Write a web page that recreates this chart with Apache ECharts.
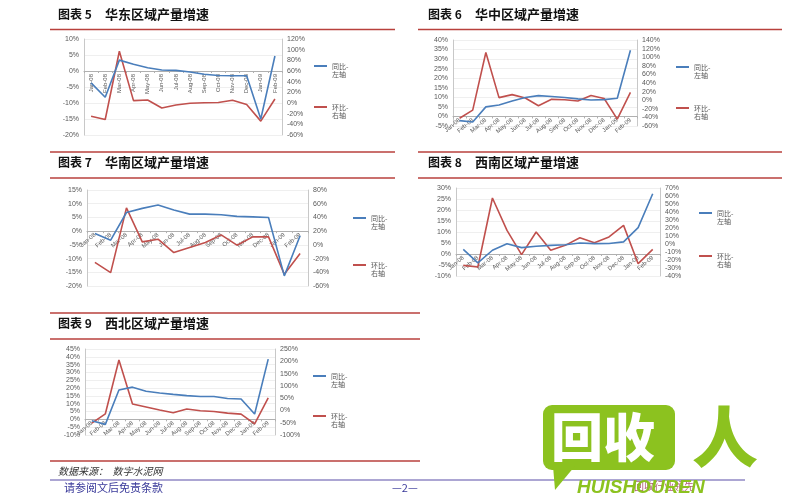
<!DOCTYPE html>
<html>
<head>
<meta charset="utf-8">
<script src="https://cdn.jsdelivr.net/npm/echarts@6/dist/echarts.min.js"></script>
<style>html,body{margin:0;padding:0;background:#fff}#c{width:800px;height:500px}</style>
</head>
<body>
<div id="c"></div>
<script>
const months = ['Jan-08','Feb-08','Mar-08','Apr-08','May-08','Jun-08','Jul-08','Aug-08','Sep-08','Oct-08','Nov-08','Dec-08','Jan-09','Feb-09'];

const huadongYoY = [-3.7,-8.2,3.4,2.1,1.0,0.3,0.2,-0.3,-1.0,-1.4,-1.5,-1.5,-15.0,4.7];
const huadongMoM = [-25,-31,97,4.4,5.6,-9.4,-3.8,-0.6,0.6,1.0,5.0,-3.0,-34,7.5];

const huazhongYoY = [-2.2,-2.9,5.0,6.0,8.1,9.9,10.9,10.4,9.9,9.2,8.6,8.8,9.5,34.6];
const huazhongMoM = [-42,-23,111,6,13,5,-13,2,1,-2,11,4,-44,18];

const huananYoY = [-0.9,-3.3,6.8,8.3,9.5,7.7,6.2,6.2,6.0,5.4,5.2,5.0,-16.3,-1.7];
const huananMoM = [-25.6,-40.5,54,4.4,8.3,-11.2,-3.9,3.4,14.6,-0.5,11.7,11.7,-43,-12.7];

const xinanYoY = [2.1,-4.0,1.7,4.7,2.9,3.5,3.9,4.2,5.0,4.7,4.8,5.5,12.0,27.4];
const xinanMoM = [-26.7,-28.8,57.5,17,-13.3,15,-7.9,-1.7,7.9,1.7,8.8,23.3,-24.6,-6.7];

const xibeiYoY = [-0.9,-3.2,18.8,20.6,18,16.9,16,15.2,14.6,14.6,13.3,13,3.4,38.5];
const xibeiMoM = [-52,-13.7,205,26,13.7,1.4,-9.6,5.5,-1.4,-4.1,-11,-15,-55,50.8];

const chartTitles = ['华东区域产量增速','华中区域产量增速','华南区域产量增速','西南区域产量增速','西北区域产量增速'];
const chartNums = ['图表 5','图表 6','图表 7','图表 8','图表 9'];
const nameYoY = '同比-\n左轴';
const nameMoM = '环比-\n右轴';

// per-chart layout: grid, axis ranges, legend position
const panels = [
  {yoy: huadongYoY, mom: huadongMoM, grid:{left:84,top:39,width:198,height:96}, l:[-20,10,5], r:[-60,120,20], rot:90, leg:{left:314,top:54,gap:17}},
  {yoy: huazhongYoY, mom: huazhongMoM, grid:{left:453,top:40,width:184,height:86}, l:[-5,40,5], r:[-60,140,20], rot:40, leg:{left:676,top:55,gap:17}},
  {yoy: huananYoY, mom: huananMoM, grid:{left:87,top:190,width:221,height:96}, l:[-20,15,5], r:[-60,80,20], rot:40, leg:{left:353,top:206,gap:23}},
  {yoy: xinanYoY, mom: xinanMoM, grid:{left:456,top:188,width:204,height:88}, l:[-10,30,5], r:[-40,70,10], rot:40, leg:{left:699,top:201,gap:19}},
  {yoy: xibeiYoY, mom: xibeiMoM, grid:{left:85,top:349,width:190,height:86}, l:[-10,45,5], r:[-100,250,50], rot:40, leg:{left:313,top:364,gap:16}}
];

const BLUE = '#4a7ebb', RED = '#c0504d';
const lblColor = '#595959';
const grids = [], xAxes = [], yAxes = [], series = [], legends = [];

panels.forEach((p, i) => {
  grids.push(Object.assign({}, p.grid));
  // place the category axis at the 0% level of the left axis
  const zeroOffset = -p.grid.height * (0 - p.l[0]) / (p.l[1] - p.l[0]);
  xAxes.push({
    type:'category', gridIndex:i, data: months, boundaryGap:true, position:'bottom', offset: zeroOffset,
    axisLine:{show:true, onZero:false, lineStyle:{color:'#b0b0b0', width:1}},
    axisTick:{show:true, length:2, lineStyle:{color:'#b0b0b0'}},
    axisLabel:{interval:0, rotate:p.rot, fontSize:6, color:lblColor, margin:3, fontFamily:'Liberation Sans'}
  });
  yAxes.push({
    type:'value', gridIndex:i, position:'left', min:p.l[0], max:p.l[1], interval:p.l[2],
    axisLine:{show:true, lineStyle:{color:'#c8c8c8'}}, axisTick:{show:false},
    splitLine:{show:true, lineStyle:{color:'#efefef'}},
    axisLabel:{formatter:'{value}%', fontSize:7, color:lblColor, margin:5, fontFamily:'Liberation Sans'}
  });
  yAxes.push({
    type:'value', gridIndex:i, position:'right', min:p.r[0], max:p.r[1], interval:p.r[2],
    axisLine:{show:true, lineStyle:{color:'#c8c8c8'}}, axisTick:{show:false},
    splitLine:{show:false},
    axisLabel:{formatter:'{value}%', fontSize:7, color:lblColor, margin:5, fontFamily:'Liberation Sans'}
  });
  series.push({
    type:'line', name:nameYoY, xAxisIndex:i, yAxisIndex:2*i, data:p.yoy,
    symbol:'none', lineStyle:{color:BLUE, width:1.6}, itemStyle:{color:BLUE}, z:3
  });
  series.push({
    type:'line', name:nameMoM, xAxisIndex:i, yAxisIndex:2*i+1, data:p.mom,
    symbol:'none', lineStyle:{color:RED, width:1.6}, itemStyle:{color:RED}, z:2
  });
  legends.push({
    left:p.leg.left, top:p.leg.top, orient:'vertical', padding:0, itemGap:p.leg.gap,
    itemWidth:13, itemHeight:2, icon:'rect', data:[nameYoY, nameMoM],
    formatter: n => ' \n' + n,
    textStyle:{fontSize:7, lineHeight:8, color:'#555', fontFamily:'Noto Sans CJK SC'}
  });
});

const RL = '#b8403c';
function hline(x1, x2, y, color, w){
  return {type:'line', shape:{x1:x1, y1:y, x2:x2, y2:y}, style:{stroke:color, lineWidth:w}, silent:true};
}
function ttl(x, y, text, size, extra){
  return {type:'text', x:x, y:y, style:Object.assign({text:text, fontSize:size, fontWeight:'bold', fill:'#111',
    fontFamily:'Noto Sans CJK SC', verticalAlign:'middle'}, extra||{}), silent:true};
}
const graphics = [
  hline(50, 395, 29.5, RL, 1.5), hline(418, 782, 29.5, RL, 1.5),
  hline(50, 395, 152, RL, 1.5), hline(50, 395, 178, RL, 1.5),
  hline(418, 782, 152, RL, 1.5), hline(418, 782, 178, RL, 1.5),
  hline(50, 420, 313, RL, 1.5), hline(50, 420, 339, RL, 1.5),
  hline(50, 420, 461, RL, 1.5),
  hline(50, 745, 480, '#5a4fa8', 1.2),
  ttl(58, 14, chartNums[0], 12), ttl(105, 14, chartTitles[0], 13),
  ttl(428, 14, chartNums[1], 12), ttl(475, 14, chartTitles[1], 13),
  ttl(58, 162, chartNums[2], 12), ttl(105, 162, chartTitles[2], 13),
  ttl(428, 162, chartNums[3], 12), ttl(475, 162, chartTitles[3], 13),
  ttl(58, 323, chartNums[4], 12), ttl(105, 323, chartTitles[4], 13),
  ttl(58, 471, '数据来源：  数字水泥网', 10, {fontWeight:'normal', fontStyle:'italic', fill:'#333'}),
  ttl(64, 488, '请参阅文后免责条款', 11, {fontWeight:'normal', fill:'#3a3a9a'}),
  ttl(392, 488, '—2—', 11, {fontWeight:'normal', fill:'#3a3a9a'}),
  // watermark logo
  {type:'rect', shape:{x:543, y:405, width:132, height:65, r:9}, style:{fill:'#8cc21f'}, silent:true},
  {type:'polygon', shape:{points:[[553,466],[555,490],[575,466]]}, style:{fill:'#8cc21f'}, silent:true},
  {type:'text', x:551, y:437, style:{text:'回收', fontSize:52, fontWeight:900, fill:'#fff', fontFamily:'Noto Sans CJK SC', verticalAlign:'middle'}, silent:true},
  {type:'text', x:692, y:437, style:{text:'人', fontSize:66, fontWeight:900, fill:'#8cc21f', fontFamily:'Noto Sans CJK SC', verticalAlign:'middle'}, silent:true},
  {type:'text', x:634, y:486, style:{text:'回收行业领先', fontSize:10, fill:'#b05a78', fontFamily:'Noto Sans CJK SC', verticalAlign:'middle'}, silent:true},
  {type:'text', x:577, y:488, style:{text:'HUISHOUREN', fontSize:19, fontWeight:'bold', fontStyle:'italic', fill:'#8cc21f', fontFamily:'Liberation Sans', verticalAlign:'middle'}, silent:true}
];

const chart = echarts.init(document.getElementById('c'), null, {renderer:'canvas'});
chart.setOption({
  backgroundColor:'#fff',
  animation:false,
  grid:grids, xAxis:xAxes, yAxis:yAxes, series:series, legend:legends,
  graphic:graphics
});
</script>
</body>
</html>
